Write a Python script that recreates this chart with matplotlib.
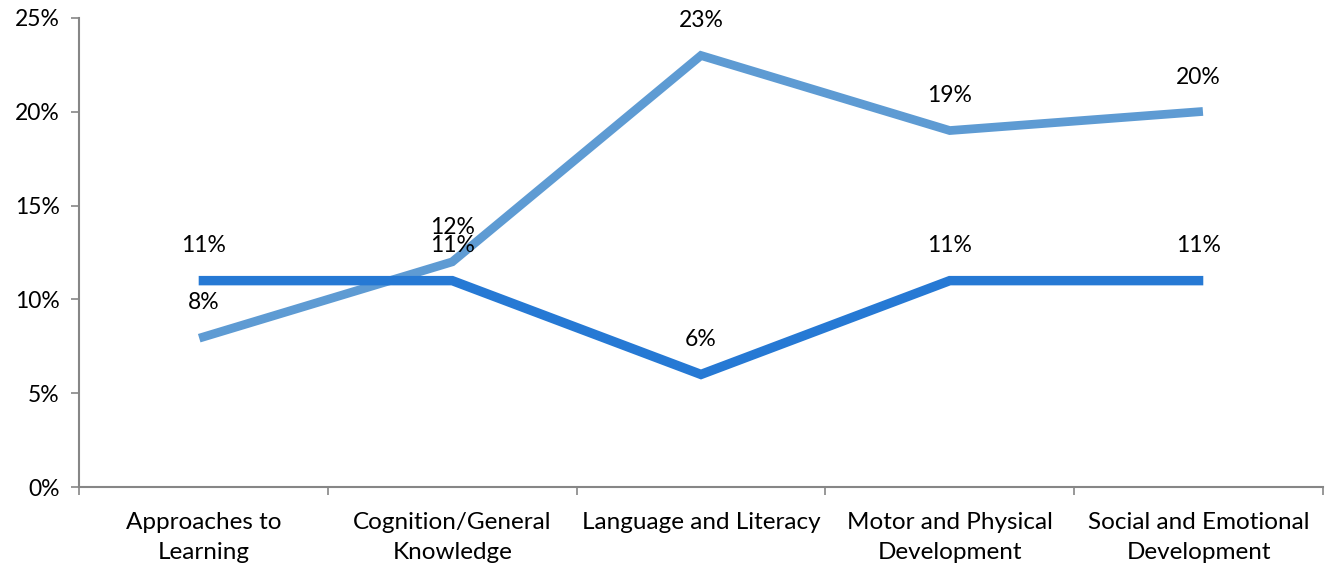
import matplotlib.pyplot as plt
import numpy as np

plt.rcParams['font.family'] = ['Lato', 'DejaVu Sans']

CATEGORIES = ["Approaches to\nLearning", "Cognition/General\nKnowledge",
              "Language and Literacy", "Motor and Physical\nDevelopment",
              "Social and Emotional\nDevelopment"]
SERIES_DARK = [11, 11, 6, 11, 11]
SERIES_LIGHT = [8, 12, 23, 19, 20]
Y_TICKS = [0, 5, 10, 15, 20, 25]

DARK = "#2679D4"
LIGHT = "#5E9BD3"
AXIS = "#868686"

fig = plt.figure(figsize=(13.28, 5.69), dpi=100)
ax = fig.add_axes([0.0595, 0.1441, 0.9367, 0.8243])

x = np.arange(len(CATEGORIES))
ax.plot(x, SERIES_LIGHT, color=LIGHT, lw=6.3, solid_joinstyle="miter", zorder=2)
ax.plot(x, SERIES_DARK, color=DARK, lw=6.8, solid_joinstyle="miter", zorder=3)

for ys in (SERIES_LIGHT, SERIES_DARK):
    for xi, yi in zip(x, ys):
        ax.annotate(f"{yi}%", (xi, yi), xytext=(0, 25), textcoords="offset points",
                    ha="center", va="center", fontsize=16.5, color="black")

ax.set_xlim(-0.5, len(CATEGORIES) - 0.5)
ax.set_ylim(0, 25)
ax.set_yticks(Y_TICKS)
ax.set_yticklabels([f"{v}%" for v in Y_TICKS], fontsize=16.5)

# category labels at centres, tick marks at the boundaries
ax.set_xticks(x)
ax.set_xticklabels(CATEGORIES, fontsize=17.5, linespacing=1.55)
ax.tick_params(axis="x", which="major", length=0, pad=18)
ax.set_xticks(np.arange(len(CATEGORIES) + 1) - 0.5, minor=True)
ax.tick_params(axis="x", which="minor", length=6, width=1.2, color=AXIS, direction="out")
ax.tick_params(axis="y", length=6, width=1.2, color=AXIS, pad=8)

for side in ("top", "right"):
    ax.spines[side].set_visible(False)
for side in ("left", "bottom"):
    ax.spines[side].set_color(AXIS)
    ax.spines[side].set_linewidth(1.5)

fig.savefig("out.png", dpi=100)
